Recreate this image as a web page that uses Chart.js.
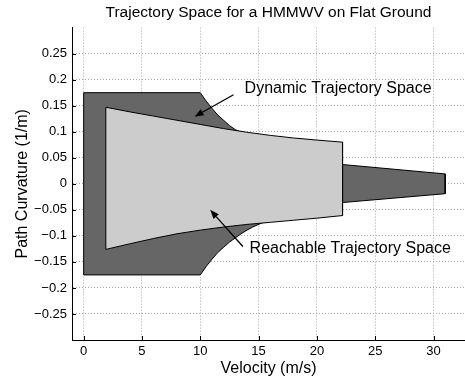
<!DOCTYPE html>
<html>
<head>
<meta charset="utf-8">
<script src="https://cdn.jsdelivr.net/npm/chart.js@4.4.1/dist/chart.umd.min.js"></script>
<style>
  body { margin: 0; background: #fff; }
</style>
</head>
<body>
<canvas id="trajChart" width="465" height="381"></canvas>
<script>
// reachable trajectory space: upper / lower curvature limit per velocity
var reachVel = [1.9, 4, 6, 8, 10, 12, 14, 16, 18, 20, 22.2];
var reachUpper = [0.147, 0.138, 0.130, 0.122, 0.114, 0.106, 0.099, 0.093, 0.088, 0.084, 0.080];
var reachLower = [-0.126, -0.115, -0.105, -0.096, -0.089, -0.083, -0.078, -0.074, -0.070, -0.066, -0.061];

// dynamic trajectory space outline, clockwise from top-left
var dynVel = [0, 10, 10.5, 11, 11.5, 12, 12.5, 13, 13.4, 22.2, 31, 31, 22.2, 15.3, 14.5, 14, 13.5, 13, 12.5, 12, 11.5, 11, 10.5, 10, 0, 0];
var dynCurv = [0.175, 0.175, 0.159, 0.145, 0.132, 0.122, 0.112, 0.104, 0.100, 0.037, 0.019, -0.019, -0.036, -0.075, -0.083, -0.089, -0.096, -0.104, -0.112, -0.122, -0.132, -0.145, -0.159, -0.175, -0.175, 0.175];

var xTicks = [0, 5, 10, 15, 20, 25, 30];
var yTicks = [-0.25, -0.2, -0.15, -0.1, -0.05, 0, 0.05, 0.1, 0.15, 0.2, 0.25];
var yTickLabels = ["\u22120.25", "\u22120.2", "\u22120.15", "\u22120.1", "\u22120.05", "0", "0.05", "0.1", "0.15", "0.2", "0.25"];

// text annotations with arrows (data units, text at baseline)
var noteText = ["Dynamic Trajectory Space", "Reachable Trajectory Space"];
var noteAt = [[13.8, 0.1744], [14.23, -0.1327]];
var arrowFrom = [[12.85, 0.171], [13.65, -0.1205]];
var arrowTo = [[9.51, 0.129], [10.85, -0.05]];

var fontFam = "'Liberation Sans', Arial, Helvetica, sans-serif";

function toPoints(xs, ys) {
  return xs.map(function (x, i) { return { x: x, y: ys[i] }; });
}

var reachPts = toPoints(reachVel, reachUpper)
  .concat(toPoints(reachVel, reachLower).reverse());
reachPts.push(reachPts[0]);
var dynPts = toPoints(dynVel, dynCurv);

var overlay = {
  id: "overlay",
  afterDatasetsDraw: function (chart) {
    var ctx = chart.ctx, xs = chart.scales.x, ys = chart.scales.y;
    var area = chart.chartArea;
    ctx.save();
    // inward tick marks
    ctx.strokeStyle = "#000";
    ctx.lineWidth = 1;
    ctx.beginPath();
    xTicks.forEach(function (v) {
      var px = Math.round(xs.getPixelForValue(v)) + 0.5;
      ctx.moveTo(px, area.bottom);
      ctx.lineTo(px, area.bottom - 4);
    });
    yTicks.forEach(function (v) {
      var py = Math.round(ys.getPixelForValue(v)) + 0.5;
      ctx.moveTo(area.left, py);
      ctx.lineTo(area.left + 4, py);
    });
    ctx.stroke();

    // arrows
    ctx.fillStyle = "#000";
    ctx.lineWidth = 1.3;
    for (var i = 0; i < arrowFrom.length; i++) {
      var x1 = xs.getPixelForValue(arrowFrom[i][0]), y1 = ys.getPixelForValue(arrowFrom[i][1]);
      var x2 = xs.getPixelForValue(arrowTo[i][0]), y2 = ys.getPixelForValue(arrowTo[i][1]);
      var a = Math.atan2(y2 - y1, x2 - x1), len = 9, w = 3.5;
      var bx = x2 - len * Math.cos(a), by = y2 - len * Math.sin(a);
      ctx.beginPath();
      ctx.moveTo(x1, y1);
      ctx.lineTo(bx, by);
      ctx.stroke();
      ctx.beginPath();
      ctx.moveTo(x2, y2);
      ctx.lineTo(bx + w * Math.sin(a), by - w * Math.cos(a));
      ctx.lineTo(bx - w * Math.sin(a), by + w * Math.cos(a));
      ctx.closePath();
      ctx.fill();
    }

    // labels
    ctx.font = "16px " + fontFam;
    ctx.textAlign = "left";
    ctx.textBaseline = "alphabetic";
    noteText.forEach(function (t, i) {
      ctx.fillText(t, xs.getPixelForValue(noteAt[i][0]), ys.getPixelForValue(noteAt[i][1]));
    });
    ctx.restore();
  }
};

var gridStyle = { color: "#a8a8a8", drawTicks: false, lineWidth: 1 };
var borderStyle = { display: true, color: "#000", width: 1, dash: [1, 2] };

new Chart(document.getElementById("trajChart"), {
  type: "scatter",
  data: {
    datasets: [
      {
        label: "Reachable Trajectory Space",
        data: reachPts,
        showLine: true,
        fill: "shape",
        backgroundColor: "#cccccc",
        borderColor: "#000",
        borderWidth: 1,
        pointRadius: 0,
        tension: 0,
        order: 0
      },
      {
        label: "Dynamic Trajectory Space",
        data: dynPts,
        showLine: true,
        fill: "shape",
        backgroundColor: "#666666",
        borderColor: "#000",
        borderWidth: 1,
        borderJoinStyle: "round",
        pointRadius: 0,
        tension: 0,
        order: 1
      }
    ]
  },
  options: {
    responsive: false,
    animation: false,
    layout: { padding: 0 },
    plugins: {
      legend: { display: false },
      tooltip: { enabled: false },
      title: {
        display: true,
        fullSize: false,
        text: "Trajectory Space for a HMMWV on Flat Ground",
        color: "#000",
        font: { family: fontFam, size: 15.5, weight: "normal" },
        padding: { top: 3, bottom: 6 }
      }
    },
    scales: {
      x: {
        type: "linear",
        min: -1,
        max: 32.7,
        afterBuildTicks: function (s) { s.ticks = xTicks.map(function (v) { return { value: v }; }); },
        afterFit: function (s) { s.height = 41; },
        ticks: { color: "#000", font: { family: fontFam, size: 13 }, padding: 4, autoSkip: false, maxRotation: 0 },
        grid: gridStyle,
        border: borderStyle,
        title: {
          display: true,
          text: "Velocity (m/s)",
          color: "#000",
          font: { family: fontFam, size: 16 },
          padding: { top: 0, bottom: 3 }
        }
      },
      y: {
        type: "linear",
        min: -0.3,
        max: 0.3,
        afterBuildTicks: function (s) { s.ticks = yTicks.map(function (v) { return { value: v }; }); },
        afterFit: function (s) { s.width = 72; },
        ticks: {
          color: "#000",
          font: { family: fontFam, size: 13 },
          padding: 5,
          autoSkip: false,
          callback: function (value) { return yTickLabels[yTicks.indexOf(value)]; }
        },
        grid: gridStyle,
        border: borderStyle,
        title: {
          display: true,
          text: "Path Curvature (1/m)",
          color: "#000",
          font: { family: fontFam, size: 16 },
          padding: { top: 13, bottom: 0 }
        }
      }
    }
  },
  plugins: [overlay]
});
</script>
</body>
</html>
